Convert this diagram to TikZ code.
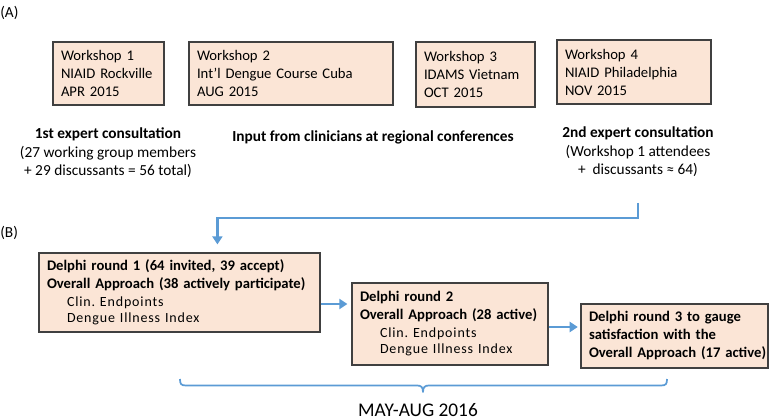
\documentclass[tikz,border=0pt]{standalone}
\usepackage{fontspec}
\setmainfont{Carlito}
\newfontfamily\spacedfont[LetterSpace=6]{Carlito}
\usetikzlibrary{arrows.meta,calc}
\definecolor{boxfill}{HTML}{FBE5D6}
\definecolor{boxline}{HTML}{404040}
\definecolor{arrblue}{HTML}{5B9BD5}
\hbadness=10000 \hfuzz=50pt
\frenchspacing
\tikzset{
  box/.style={draw=boxline, line width=0.9pt, fill=boxfill, align=left, inner xsep=6pt, inner ysep=0pt,
    font=\fontsize{11}{13.5}\selectfont},
  lbl/.style={align=center, inner sep=0pt, font=\fontsize{11.5}{14}\selectfont},
  flow/.style={draw=arrblue, line width=2.2pt, -{Triangle[length=6pt,width=7.5pt]}},
  bracelook/.style={draw=arrblue, line width=1.3pt, line join=round}
}
\newcommand{\myln}[1]{\mbox{#1}}
\newcommand{\mybl}[1]{\mbox{\bfseries #1}}
\newcommand{\mysmall}[1]{\mbox{\hspace*{15pt}\spacedfont\fontsize{10.5}{12}\selectfont #1}}
\begin{document}
\begin{tikzpicture}[x=0.75pt,y=-0.75pt]
\useasboundingbox (0,0) rectangle (778,420);
% panel letters
\node[lbl, anchor=west] (labA) at (0,13) {(A)};
\node[lbl, anchor=west] (labB) at (0,233) {(B)};
% workshops
\node[box, text width=71.25pt, minimum height=47.25pt] (w1) at (108.5,73.5) {\myln{Workshop 1}\\\myln{NIAID Rockville}\\\myln{APR 2015}};
\node[box, text width=141pt, minimum height=47.25pt] (w2) at (291,73.5) {\myln{Workshop 2}\\\myln{Int’l Dengue Course Cuba}\\\myln{AUG 2015}};
\node[box, text width=77.25pt, minimum height=48.75pt] (w3) at (475.5,74.5) {\myln{Workshop 3}\\\myln{IDAMS Vietnam}\\\myln{OCT 2015}};
\node[box, text width=103.5pt, minimum height=48pt] (w4) at (634,72) {\myln{Workshop 4}\\\myln{NIAID Philadelphia}\\\myln{NOV 2015}};
% labels
\node[lbl] (c1) at (108,153) {\textbf{1st expert consultation}\\(27 working group members\\+ 29 discussants = 56 total)};
\node[lbl] (c2) at (373,137) {\textbf{Input from clinicians at regional conferences}};
\node[lbl] (c3) at (638,152) {\textbf{2nd expert consultation}\\(Workshop 1 attendees\\+\ \ discussants ≈ 64)};
% Delphi rounds
\node[box, text width=198.75pt, minimum height=59.25pt] (d1) at (179.5,292.5)
 {\mybl{Delphi round 1 (64 invited, 39 accept)}\\\mybl{Overall Approach (38 actively participate)}\\\mysmall{Clin. Endpoints}\\[-1.5pt]\mysmall{Dengue Illness Index}};
\node[box, text width=135pt, minimum height=61.5pt] (d2) at (450,324)
 {\mybl{Delphi round 2}\\\mybl{Overall Approach (28 active)}\\\mysmall{Clin. Endpoints}\\[-1.5pt]\mysmall{Dengue Illness Index}};
\node[box, text width=128.25pt, minimum height=48pt] (d3) at (674.5,336)
 {\mybl{Delphi round 3 to gauge}\\\mybl{satisfaction with the}\\\mybl{Overall Approach (17 active)}};
% connectors
\coordinate (start) at (638,203);
\draw[flow] (start) -- (638,218) -| ([xshift=134.25pt,yshift=6pt]d1.north west);
\draw[flow] (d1.east |- 0,304) -- ([xshift=-3pt]d2.west |- 0,304);
\draw[flow] (d2.east |- 0,327) -- ([xshift=-2pt]d3.west |- 0,327);
% brace
\draw[bracelook] (180,379) .. controls (180,384) and (181,385.5) .. (186,385.5)
  -- (417,385.5) .. controls (421,385.5) and (423,387) .. (423,392)
  .. controls (423,387) and (425,385.5) .. (429,385.5)
  -- (661,385.5) .. controls (666,385.5) and (667,384) .. (667,379);
\node[inner sep=0pt, font=\fontsize{14.5}{17}\selectfont] (may) at (418,410) {MAY-AUG 2016};
\end{tikzpicture}
\end{document}
